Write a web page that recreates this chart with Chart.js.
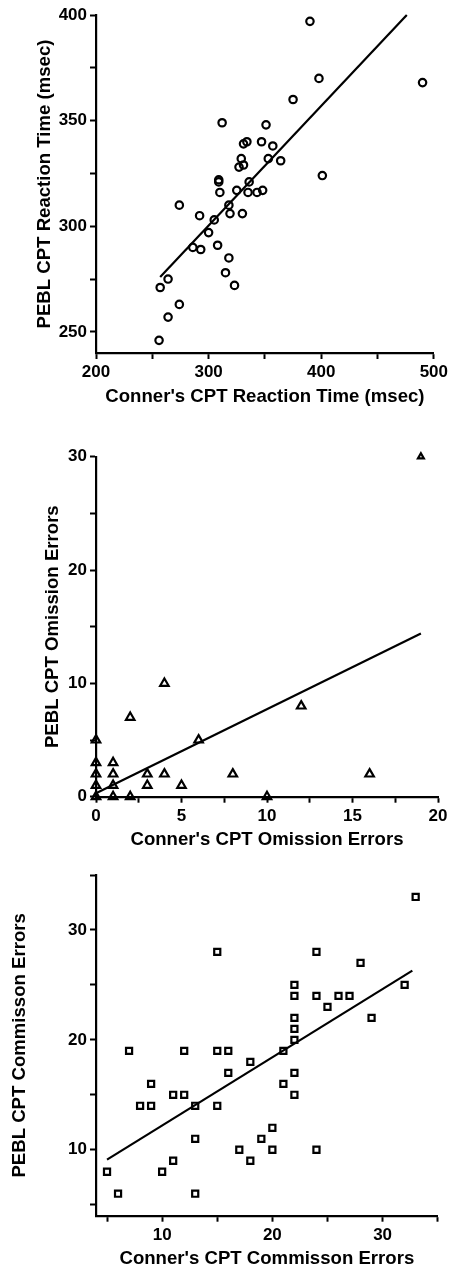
<!DOCTYPE html>
<html>
<head>
<meta charset="utf-8">
<script src="https://cdn.jsdelivr.net/npm/chart.js@4.4.1/dist/chart.umd.min.js"></script>
<style>
  body { margin: 0; background: #fff; }
  .panel { position: absolute; left: 0; width: 451px; }
</style>
</head>
<body>
<div class="panel" style="top:0;height:420px"><canvas id="rtChart"></canvas></div>
<div class="panel" style="top:420px;height:440px"><canvas id="omChart"></canvas></div>
<div class="panel" style="top:860px;height:411px"><canvas id="cmChart"></canvas></div>
<script>
// Reaction time (msec)
const rtConners = [390, 398, 490, 375, 312, 351, 334, 331, 347, 357, 329, 331, 327, 353, 364, 401, 309, 309, 336, 310,
                   325, 335, 343, 348, 274, 292, 318, 319, 330, 305, 300, 286, 293, 308, 318, 315, 323, 264, 257, 274, 264, 256];
const rtPebl    = [397, 370, 368, 360, 349, 348, 340, 339, 340, 338, 332, 329, 328, 332, 331, 324, 322, 321, 321, 316,
                   317, 316, 316, 317, 310, 305, 310, 306, 306, 303, 297, 290, 289, 291, 285, 278, 272, 275, 271, 263, 257, 246];
const rtFitX = [257, 476];
const rtFitY = [276, 400];

// Omission errors
const omConners = [19, 4, 2, 12, 6, 0, 0, 0, 0, 0, 1, 1, 1, 1, 2, 3, 3, 4, 5, 8, 10, 16];
const omPebl    = [30, 10, 7, 8, 5, 5, 3, 2, 1, 0, 3, 2, 1, 0, 0, 2, 1, 2, 1, 2, 0, 2];
const omFitX = [0, 19];
const omFitY = [0.3, 14.4];

// Commission errors
const cmConners = [33, 15, 24, 28, 22, 22, 24, 25, 26, 27, 32, 29, 22, 22, 22, 7, 12, 15, 16, 21, 18, 16,
                   9, 21, 22, 11, 12, 22, 8, 9, 13, 15, 13, 20, 19, 17, 20, 24, 18, 11, 10, 5, 6, 13];
const cmPebl    = [33, 28, 28, 27, 25, 24, 24, 23, 24, 24, 25, 22, 22, 21, 20, 19, 19, 19, 19, 19, 18, 17,
                   16, 16, 17, 15, 15, 15, 14, 14, 14, 14, 11, 12, 11, 10, 10, 10, 9, 9, 8, 8, 6, 6];
const cmFitX = [5, 32.7];
const cmFitY = [9.1, 26.3];

const toPoints = (xs, ys) => xs.map((x, i) => ({ x: x, y: ys[i] }));

const tickFont = { family: 'Liberation Sans, Arial, sans-serif', size: 17, weight: 'bold' };
const titleFont = { family: 'Liberation Sans, Arial, sans-serif', size: 18.6, weight: 'bold' };

function axis(opts) {
    return {
        type: 'linear',
        min: opts.min,
        max: opts.max,
        border: { display: true, color: '#000', width: 2.2 },
        grid: { drawOnChartArea: false, drawTicks: true, tickLength: 6, tickColor: '#000', tickWidth: 2 },
        ticks: {
            stepSize: opts.step,
            includeBounds: false,
            padding: 3,
            color: '#000',
            font: tickFont,
            maxRotation: 0,
            autoSkip: false,
            callback: v => (v % opts.major === 0 ? String(v) : '')
        },
        title: { display: true, text: opts.title, color: '#000', font: titleFont, padding: opts.titlePad },
        afterFit: opts.fit
    };
}

function makeScatter(id, c) {
    const ctx = document.getElementById(id).getContext('2d');
    return new Chart(ctx, {
        type: 'scatter',
        data: {
            datasets: [
                {
                    data: toPoints(c.xs, c.ys),
                    pointStyle: c.style,
                    pointRadius: c.radius,
                    pointBorderColor: '#000',
                    pointBackgroundColor: 'rgba(0,0,0,0)',
                    pointBorderWidth: 2.2,
                    clip: false
                },
                {
                    type: 'line',
                    data: toPoints(c.fitX, c.fitY),
                    borderColor: '#000',
                    borderWidth: 2.2,
                    pointRadius: 0,
                    fill: false,
                    clip: false
                }
            ]
        },
        options: {
            responsive: true,
            maintainAspectRatio: false,
            animation: false,
            events: [],
            layout: { padding: { top: c.top, right: c.right, bottom: 0, left: 0 } },
            plugins: { legend: { display: false }, tooltip: { enabled: false } },
            scales: {
                x: axis({
                    min: c.xMin, max: c.xMax, step: c.xStep, major: c.xMajor,
                    title: c.xTitle, titlePad: { top: 0, bottom: c.xTitlePad },
                    fit: s => { s.height = c.xHeight; }
                }),
                y: axis({
                    min: c.yMin, max: c.yMax, step: c.yStep, major: c.yMajor,
                    title: c.yTitle, titlePad: { top: c.yTitlePad, bottom: 0 },
                    fit: s => { s.width = 96; }
                })
            }
        }
    });
}

document.addEventListener('DOMContentLoaded', () => {
    // 1. reaction time
    makeScatter('rtChart', {
        xs: rtConners, ys: rtPebl, fitX: rtFitX, fitY: rtFitY,
        style: 'circle', radius: 3.7,
        xMin: 200, xMax: 500, xStep: 50, xMajor: 100,
        yMin: 240, yMax: 400, yStep: 25, yMajor: 50,
        xTitle: "Conner's CPT Reaction Time (msec)",
        yTitle: 'PEBL CPT Reaction Time (msec)',
        top: 15, right: 14.3, xHeight: 67, xTitlePad: 12.2, yTitlePad: 33.3
    });

    // 2. omission errors
    makeScatter('omChart', {
        xs: omConners, ys: omPebl, fitX: omFitX, fitY: omFitY,
        style: 'triangle',
        radius: c => (c.raw && c.raw.y >= 30 ? 3.4 : 4.9),
        xMin: 0, xMax: 20, xStep: 2.5, xMajor: 5,
        yMin: 0, yMax: 30, yStep: 5, yMajor: 10,
        xTitle: "Conner's CPT Omission Errors",
        yTitle: 'PEBL CPT Omission Errors',
        top: 36.7, right: 13, xHeight: 63.3, xTitlePad: 8.5, yTitlePad: 42
    });

    // 3. commission errors
    makeScatter('cmChart', {
        xs: cmConners, ys: cmPebl, fitX: cmFitX, fitY: cmFitY,
        style: 'rect', radius: 4.3,
        xMin: 4, xMax: 35, xStep: 5, xMajor: 10,
        yMin: 4, yMax: 35, yStep: 5, yMajor: 10,
        xTitle: "Conner's CPT Commisson Errors",
        yTitle: 'PEBL CPT Commisson Errors',
        top: 15, right: 13.3, xHeight: 55.3, xTitlePad: 0.6, yTitlePad: 8.8
    });
});
</script>
</body>
</html>
